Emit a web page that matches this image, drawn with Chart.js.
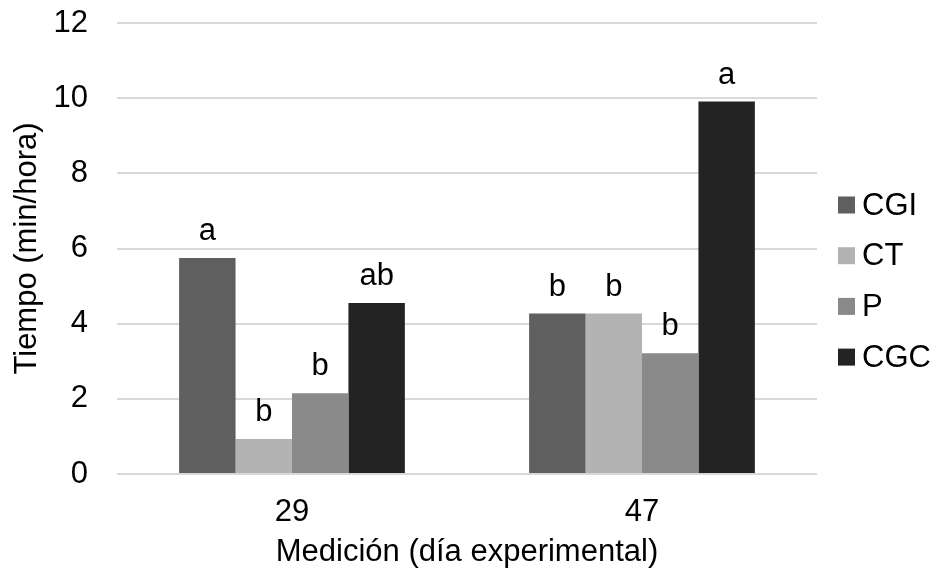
<!DOCTYPE html>
<html>
<head>
<meta charset="utf-8">
<script src="https://cdn.jsdelivr.net/npm/chart.js@4.4.1/dist/chart.umd.min.js"></script>
<style>
  html, body { margin: 0; padding: 0; background: #ffffff; }
  #wrap { width: 940px; height: 576px; }
</style>
</head>
<body>
<div id="wrap"><canvas id="c" width="940" height="576"></canvas></div>
<script>
// Measurement days and tick setup
const categories = ['29', '47'];
const yTicks = [0, 2, 4, 6, 8, 10, 12];

// Series values (min/hora)
const seriesNames = ['CGI', 'CT', 'P', 'CGC'];
const valuesCGI = [5.75, 4.27];
const valuesCT  = [0.93, 4.27];
const valuesP   = [2.15, 3.21];
const valuesCGC = [4.55, 9.91];

// Significance letters per series
const lettersCGI = ['a', 'b'];
const lettersCT  = ['b', 'b'];
const lettersP   = ['b', 'b'];
const lettersCGC = ['ab', 'a'];

const colors = ['#5f5f5f', '#b3b3b3', '#8a8a8a', '#232323'];
const FONT = '"Liberation Sans", Arial, sans-serif';
const FS = 31;

const seriesValues = [valuesCGI, valuesCT, valuesP, valuesCGC];
const seriesLetters = [lettersCGI, lettersCT, lettersP, lettersCGC];

const datasets = seriesNames.map((name, i) => ({
  label: name,
  data: seriesValues[i],
  letters: seriesLetters[i],
  backgroundColor: colors[i],
  borderWidth: 0,
  barPercentage: 1.0,
  categoryPercentage: 0.645
}));

// Letters above each bar
const letterPlugin = {
  id: 'letters',
  afterDatasetsDraw(chart) {
    const ctx = chart.ctx;
    ctx.save();
    ctx.font = FS + 'px ' + FONT;
    ctx.fillStyle = '#000000';
    ctx.textAlign = 'center';
    ctx.textBaseline = 'alphabetic';
    chart.data.datasets.forEach((ds, i) => {
      const meta = chart.getDatasetMeta(i);
      meta.data.forEach((bar, j) => {
        ctx.fillText(ds.letters[j], bar.x, bar.y - 18);
      });
    });
    ctx.restore();
  }
};

// Legend drawn on the right side, one row per series
const sideLegend = {
  id: 'sideLegend',
  afterDraw(chart) {
    const ctx = chart.ctx;
    ctx.save();
    ctx.font = FS + 'px ' + FONT;
    ctx.textBaseline = 'middle';
    ctx.textAlign = 'left';
    const x0 = 838, box = 17, rowGap = 50.7, yStart = 205;
    chart.data.datasets.forEach((ds, i) => {
      const cy = yStart + i * rowGap;
      ctx.fillStyle = ds.backgroundColor;
      ctx.fillRect(x0, cy - box / 2, box, box);
      ctx.fillStyle = '#000000';
      ctx.fillText(ds.label, x0 + box + 7, cy + 1);
    });
    ctx.restore();
  }
};

new Chart(document.getElementById('c'), {
  type: 'bar',
  data: { labels: categories, datasets },
  options: {
    responsive: false,
    animation: false,
    devicePixelRatio: 1,
    layout: { padding: { left: 0, right: 123, top: 0, bottom: 0 } },
    plugins: {
      legend: { display: false },
      tooltip: { enabled: false }
    },
    scales: {
      x: {
        grid: { display: false, drawTicks: false },
        border: { display: false },
        ticks: { color: '#000000', font: { family: FONT, size: FS }, padding: 19.4 },
        title: {
          display: true,
          text: 'Medición (día experimental)',
          color: '#000000',
          font: { family: FONT, size: FS },
          padding: { top: -16.6, bottom: 5.4 }
        }
      },
      y: {
        min: 0,
        max: 12,
        afterBuildTicks(axis) { axis.ticks = yTicks.map(v => ({ value: v })); },
        afterFit(axis) { axis.paddingTop = 23; },
        grid: { color: '#d9d9d9', lineWidth: 2, drawTicks: false },
        border: { display: false },
        ticks: { color: '#000000', font: { family: FONT, size: FS }, padding: 29 },
        title: {
          display: true,
          text: 'Tiempo (min/hora)',
          color: '#000000',
          font: { family: FONT, size: FS },
          padding: { top: 8.4, bottom: -21.1 }
        }
      }
    }
  },
  plugins: [letterPlugin, sideLegend]
});
</script>
</body>
</html>
